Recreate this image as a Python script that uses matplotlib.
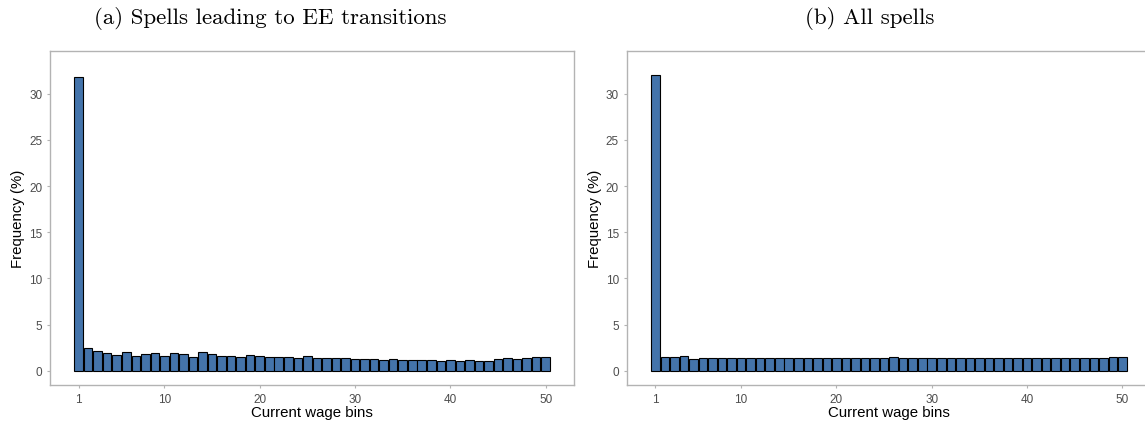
import numpy as np
from matplotlib import pyplot as plt

bins = np.arange(1, 51)

# panel (a): spells leading to EE transitions
freq_ee = [31.8, 2.45, 2.15, 1.87, 1.74, 1.98, 1.56, 1.85, 1.88, 1.62,
           1.87, 1.82, 1.44, 2.02, 1.77, 1.63, 1.62, 1.52, 1.65, 1.55,
           1.45, 1.45, 1.48, 1.34, 1.58, 1.33, 1.33, 1.40, 1.33, 1.23,
           1.23, 1.23, 1.19, 1.27, 1.12, 1.12, 1.12, 1.19, 1.08, 1.12,
           1.08, 1.12, 1.05, 1.05, 1.27, 1.33, 1.23, 1.33, 1.44, 1.44]

# panel (b): all spells
freq_all = [32.0, 1.52, 1.49, 1.63, 1.31, 1.41, 1.41, 1.42, 1.38, 1.40,
             1.38, 1.38, 1.38, 1.39, 1.38, 1.39, 1.38, 1.38, 1.38, 1.38,
             1.38, 1.38, 1.38, 1.38, 1.38, 1.50, 1.38, 1.38, 1.38, 1.38,
             1.38, 1.38, 1.38, 1.38, 1.38, 1.38, 1.38, 1.38, 1.38, 1.38,
             1.38, 1.38, 1.38, 1.38, 1.38, 1.38, 1.38, 1.38, 1.46, 1.46]

titles = ['(a) Spells leading to EE transitions', '(b) All spells']
title_x = [270, 870]
xticks = [1, 10, 20, 30, 40, 50]
yticks = [0, 5, 10, 15, 20, 25, 30]

W, H = 1145, 427
fig = plt.figure(figsize=(W / 100, H / 100), dpi=100)

grey = '#b3b3b3'
lefts = [50, 626.7]
for k, (vals, left) in enumerate(zip([freq_ee, freq_all], lefts)):
    ax = fig.add_axes([left / W, 1 - 386 / H, 524.3 / W, (386 - 52.3) / H])
    ax.bar(bins, vals, width=0.9, color='#4474AB', edgecolor='black', linewidth=0.8)
    ax.set_xlim(-2, 53)
    ax.set_ylim(-1.55, 34.6)
    ax.set_xticks(xticks)
    ax.set_yticks(yticks)
    for s in ax.spines.values():
        s.set_color(grey)
        s.set_linewidth(1.0)
    ax.tick_params(colors=grey, labelcolor='#4d4d4d', length=2.5, width=0.8,
                   labelsize=8.5, pad=3)
    for lab in ax.get_xticklabels() + ax.get_yticklabels():
        lab.set_family('Liberation Sans')
    ax.set_xlabel('Current wage bins', fontsize=10.8, family='Liberation Sans', labelpad=0)
    ax.set_ylabel('Frequency (%)', fontsize=10.8, family='Liberation Sans', labelpad=3)
    fig.text(title_x[k] / W, 1 - 19 / H, titles[k], family='cmr10', fontsize=16.5,
             ha='center', va='center')

fig.savefig('out.png', dpi=100)
